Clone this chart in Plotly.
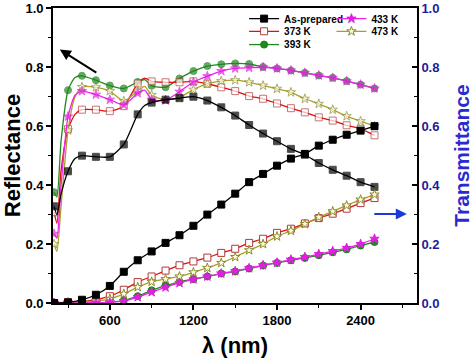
import plotly.graph_objects as go

# ---------------- data ----------------
wl_R = [200, 220, 250, 300, 350, 400, 500, 600, 700, 800, 850, 900, 1000, 1100, 1200,
        1300, 1400, 1500, 1600, 1700, 1800, 1900, 2000, 2100, 2200, 2300, 2400, 2500]
mark_R = [1, 0, 0, 1, 0, 1, 1, 1, 1, 1, 0, 1, 1, 1, 1, 1, 1, 1, 1, 1, 1, 1, 1, 1, 1, 1, 1, 1]

wl_T = [200, 300, 400, 500, 600, 700, 800, 900, 1000, 1100, 1200, 1300, 1400, 1500,
        1600, 1700, 1800, 1900, 2000, 2100, 2200, 2300, 2400, 2500]

R_asprep = [0.328, 0.30, 0.37, 0.447, 0.49, 0.50, 0.496, 0.496, 0.538, 0.64, 0.67, 0.68, 0.69, 0.695, 0.70,
            0.687, 0.664, 0.636, 0.604, 0.575, 0.549, 0.523, 0.503, 0.475, 0.452, 0.432, 0.41, 0.394]
R_373 = [0.308, 0.27, 0.45, 0.59, 0.64, 0.656, 0.656, 0.651, 0.668, 0.745, 0.763, 0.752, 0.749, 0.749, 0.752,
         0.744, 0.732, 0.719, 0.702, 0.693, 0.677, 0.661, 0.647, 0.63, 0.619, 0.603, 0.591, 0.569]
R_393 = [0.376, 0.36, 0.55, 0.722, 0.765, 0.771, 0.756, 0.738, 0.728, 0.75, 0.758, 0.737, 0.732, 0.762, 0.787,
         0.804, 0.81, 0.813, 0.811, 0.801, 0.796, 0.789, 0.781, 0.772, 0.764, 0.753, 0.741, 0.728]
R_433 = [0.235, 0.22, 0.40, 0.633, 0.705, 0.719, 0.707, 0.69, 0.672, 0.712, 0.722, 0.69, 0.688, 0.717, 0.75,
         0.77, 0.787, 0.796, 0.798, 0.80, 0.796, 0.789, 0.781, 0.772, 0.764, 0.753, 0.741, 0.728]
R_473 = [0.20, 0.175, 0.33, 0.586, 0.70, 0.733, 0.732, 0.719, 0.685, 0.72, 0.735, 0.706, 0.688, 0.698, 0.724,
         0.744, 0.753, 0.756, 0.749, 0.738, 0.727, 0.715, 0.693, 0.676, 0.656, 0.634, 0.617, 0.60]

T_asprep = [0.0, 0.002, 0.011, 0.028, 0.058, 0.106, 0.145, 0.175, 0.204, 0.23, 0.262, 0.30, 0.334, 0.371,
            0.41, 0.438, 0.466, 0.49, 0.506, 0.534, 0.554, 0.571, 0.585, 0.60]
T_373 = [0.0, 0.003, 0.005, 0.011, 0.023, 0.045, 0.071, 0.09, 0.11, 0.128, 0.141, 0.154, 0.17, 0.184,
         0.204, 0.218, 0.238, 0.252, 0.27, 0.288, 0.303, 0.32, 0.339, 0.356]
T_393 = [0.0, 0.0, 0.0, 0.001, 0.003, 0.008, 0.023, 0.043, 0.059, 0.072, 0.081, 0.09, 0.10, 0.107,
         0.117, 0.127, 0.136, 0.145, 0.153, 0.162, 0.172, 0.182, 0.195, 0.207]
T_433 = [0.0, 0.0, 0.0, 0.001, 0.002, 0.006, 0.02, 0.037, 0.053, 0.068, 0.08, 0.09, 0.10, 0.108,
         0.118, 0.128, 0.137, 0.147, 0.156, 0.166, 0.176, 0.187, 0.20, 0.218]
T_473 = [0.0, 0.002, 0.003, 0.006, 0.014, 0.031, 0.054, 0.072, 0.081, 0.09, 0.104, 0.119, 0.136, 0.156,
         0.179, 0.20, 0.226, 0.245, 0.268, 0.291, 0.311, 0.331, 0.351, 0.368]

names = ["As-prepared", "373 K", "393 K", "433 K", "473 K"]
R_all = [R_asprep, R_373, R_393, R_433, R_473]
T_all = [T_asprep, T_373, T_393, T_433, T_473]

x_ticks = [600, 1200, 1800, 2400]
x_minor = [300, 900, 1500, 2100, 2700]
y_ticks = [0.0, 0.2, 0.4, 0.6, 0.8, 1.0]

# ---------------- styles ----------------
styles = {
    "As-prepared": dict(line="#000000", symbol="square", fill="#000000", edge="#000000"),
    "373 K": dict(line="#e01010", symbol="square", fill="#ffffff", edge="#b03a3a"),
    "393 K": dict(line="#1e8a1e", symbol="circle", fill="#1e8a1e", edge="#1e7a1e"),
    "433 K": dict(line="#ee22ee", symbol="star", fill="#e020e0", edge="#e020e0"),
    "473 K": dict(line="#a8a028", symbol="star", fill="#fffbe0", edge="#8a8a2a"),
}
# legend placement: (legend id, x paper, y paper)
leg_pos = {
    "As-prepared": ("legend", 0.525, 0.964),
    "373 K": ("legend2", 0.525, 0.921),
    "393 K": ("legend3", 0.525, 0.876),
    "433 K": ("legend4", 0.765, 0.964),
    "473 K": ("legend5", 0.765, 0.921),
}
order = ["393 K", "373 K", "473 K", "433 K", "As-prepared"]

fig = go.Figure()
FONT = "Liberation Sans, Arial, sans-serif"

for nm in order:
    i = names.index(nm)
    st = styles[nm]
    msize = [7 if m else 0 for m in mark_R]
    mk = dict(symbol=st["symbol"], color=st["fill"], line=dict(color=st["edge"], width=1))
    fig.add_trace(go.Scatter(
        x=wl_R, y=R_all[i], mode="lines+markers", name=nm,
        line=dict(color=st["line"], width=1.3, shape="spline", smoothing=0.6),
        marker=dict(size=msize, **mk), legendgroup=nm, showlegend=False, yaxis="y"))
    fig.add_trace(go.Scatter(
        x=wl_T, y=T_all[i], mode="lines+markers", name=nm,
        line=dict(color=st["line"], width=1.3, shape="spline", smoothing=0.6),
        marker=dict(size=7, **mk), legendgroup=nm, showlegend=False, yaxis="y2"))

legends = {}
for nm in names:
    st = styles[nm]
    lid, lx, ly = leg_pos[nm]
    fig.add_trace(go.Scatter(
        x=[None], y=[None], mode="lines+markers", name=nm,
        line=dict(color=st["line"], width=1.3),
        marker=dict(size=7, symbol=st["symbol"], color=st["fill"],
                    line=dict(color=st["edge"], width=1)),
        legendgroup=nm, showlegend=True, legend=lid))
    legends[lid] = dict(x=lx, y=ly, xanchor="left", yanchor="middle", bgcolor="rgba(0,0,0,0)",
                        font=dict(size=10, weight="bold", color="#000000"),
                        itemwidth=30, borderwidth=0)

axis_common = dict(showline=True, linecolor="#000000", linewidth=1.6, showgrid=False,
                   zeroline=False, automargin=False, ticklabeloverflow="allow")

fig.update_layout(
    width=474, height=358, autosize=False,
    margin=dict(l=53, r=57, t=8, b=55, autoexpand=False),
    paper_bgcolor="white", plot_bgcolor="white",
    font=dict(family=FONT, color="#000000"),
    xaxis=dict(range=[192, 2805], tickmode="array", tickvals=x_ticks,
               ticks="outside", ticklen=5, tickwidth=1.5, tickcolor="#000000",
               minor=dict(tickmode="array", tickvals=x_minor,
                          ticks="outside", ticklen=3, tickwidth=1.3, tickcolor="#000000"),
               mirror=True,
               tickfont=dict(size=13, weight="bold", color="#000000"),
               title=dict(text="λ (nm)", font=dict(size=22, weight="bold")),
               **axis_common),
    yaxis=dict(range=[0, 1.001], tickmode="array", tickvals=y_ticks,
               ticktext=[f"{v:.1f}" for v in y_ticks],
               ticks="outside", ticklen=5, tickwidth=1.5, tickcolor="#000000",
               minor=dict(dtick=0.1, ticks="outside", ticklen=3, tickwidth=1.3, tickcolor="#000000"),
               tickfont=dict(size=13, weight="bold", color="#000000"),
               title=dict(text="Reflectance", font=dict(size=22, weight="bold")),
               **axis_common),
    yaxis2=dict(range=[0, 1.001], overlaying="y", side="right", tickmode="array",
                tickvals=y_ticks, ticktext=[f"{v:.1f}" for v in y_ticks],
                ticks="inside", ticklen=5, tickwidth=1.5, tickcolor="#000000",
                minor=dict(dtick=0.1, ticks="inside", ticklen=3, tickwidth=1.3, tickcolor="#000000"),
                tickfont=dict(size=13, weight="bold", color="#1c1c9c"),
                title=dict(text="Transmittance", font=dict(size=21, weight="bold", color="#2a2ad0")),
                **axis_common),
    annotations=[
        dict(x=241, y=0.86, xref="x", yref="y", ax=38, ay=24, axref="pixel", ayref="pixel",
             text="", showarrow=True, arrowhead=2, arrowsize=1.1, arrowwidth=2, arrowcolor="#000000"),
        dict(x=2732, y=0.302, xref="x", yref="y", ax=-34, ay=0, text="", showarrow=True,
             arrowhead=2, arrowsize=1.1, arrowwidth=2, arrowcolor="#1a3ad6"),
    ],
    **legends,
)

fig.write_html("out.html", config={"displayModeBar": False},
               post_script="document.body.style.margin='0';document.body.style.overflow='hidden';")
